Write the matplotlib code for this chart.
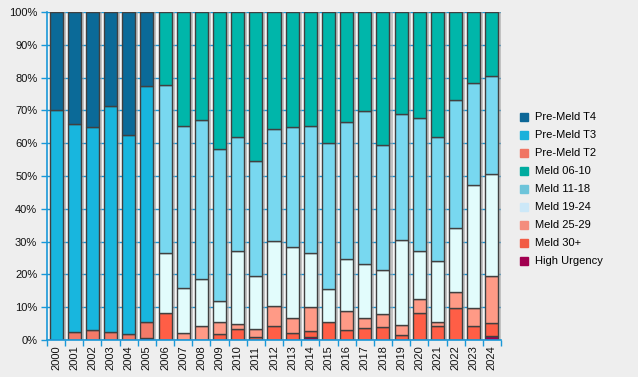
import matplotlib
matplotlib.use("Agg")
import matplotlib.pyplot as plt
import matplotlib.patheffects as pe
from matplotlib.lines import Line2D
import numpy as np

plt.rcParams['font.family'] = ['Liberation Sans', 'DejaVu Sans']

years = [str(y) for y in range(2000, 2025)]

# stack order bottom -> top
high_urgency = [0, 0, 0, 0, 0, 0.6, 0, 0, 0, 0, 0, 0, 0, 0, 0.8, 0, 0, 0, 0, 0, 0, 0, 0, 0, 1.2]
meld_30 = [0, 0, 0, 0, 0, 0, 8.1, 0, 0, 1.7, 3.3, 0.8, 4.2, 2.0, 1.8, 5.4, 2.9, 3.6, 3.9, 1.4, 8.1, 4.2, 9.7, 4.2, 3.9]
meld_25_29 = [0, 0, 0, 0, 0, 0, 0, 2.1, 4.2, 3.7, 1.5, 2.5, 6.1, 4.6, 7.4, 0, 5.8, 3.0, 3.9, 3.1, 4.3, 1.2, 4.8, 5.5, 14.3]
meld_19_24 = [0, 0, 0, 0, 0, 0, 18.3, 13.7, 14.3, 6.4, 22.2, 16.1, 19.8, 21.7, 16.4, 10.1, 15.9, 16.5, 13.4, 25.9, 14.6, 18.6, 19.6, 37.5, 31.1]
meld_11_18 = [0, 0, 0, 0, 0, 0, 51.2, 49.3, 48.5, 46.3, 34.9, 35.1, 34.1, 36.5, 38.7, 44.5, 41.8, 46.6, 38.4, 38.4, 40.6, 37.8, 39.0, 31.1, 29.9]
meld_06_10 = [0, 0, 0, 0, 0, 0, 22.4, 34.9, 33.0, 41.9, 38.1, 45.5, 35.8, 35.2, 34.9, 40.0, 33.6, 30.3, 40.4, 31.2, 32.4, 38.2, 26.9, 21.7, 19.6]
pre_t2 = [0, 2.3, 2.9, 2.3, 1.7, 4.8] + [0] * 19
pre_t3 = [70.0, 63.6, 61.9, 69.1, 60.7, 71.9] + [0] * 19
pre_t4 = [30.0, 34.1, 35.2, 28.6, 37.6, 22.7] + [0] * 19

series_names = ["High Urgency", "Meld 30+", "Meld 25-29", "Meld 19-24", "Meld 11-18",
                "Meld 06-10", "Pre-Meld T2", "Pre-Meld T3", "Pre-Meld T4"]
series_values = [high_urgency, meld_30, meld_25_29, meld_19_24, meld_11_18,
                 meld_06_10, pre_t2, pre_t3, pre_t4]
bar_colors = ["#A0004E", "#FF5E46", "#FF9A86", "#E2FCFC", "#78D8F0",
              "#00B6AA", "#F37A68", "#18B6DE", "#0B6A98"]
legend_colors = ["#A10050", "#F25C45", "#F48C7C", "#CCE8F8", "#6DC4DA",
                 "#00AB9F", "#F07563", "#18B1DB", "#0C6797"]

blue = "#1A98D8"
bg = "#EEEEEE"

fig = plt.figure(figsize=(6.38, 3.77), dpi=100, facecolor=bg)
ax = fig.add_axes([47 / 638, 37 / 377, 454 / 638, 328 / 377])
ax.set_facecolor("#F6F6F6")

x = np.arange(len(years))
bottom = np.zeros(len(years))
shadow = [pe.SimplePatchShadow(offset=(2.2, 0), shadow_rgbFace="#A0A0A0", alpha=0.6), pe.Normal()]
for name, vals, col in zip(series_names, series_values, bar_colors):
    v = np.array(vals, dtype=float)
    bars = ax.bar(x, v, width=0.72, bottom=bottom, color=col, edgecolor="#404040",
                  linewidth=1.0, zorder=3)
    for b in bars:
        if b.get_height() > 0:
            b.set_path_effects(shadow)
        else:
            b.set_visible(False)
    bottom += v

ax.set_xlim(-0.5, len(years) - 0.5)
ax.set_ylim(0, 100)
ax.set_yticks(np.arange(0, 101, 10))
ax.set_yticklabels([f"{t}%" for t in range(0, 101, 10)], fontsize=8, color="#111111")
ax.yaxis.grid(True, color=blue, linewidth=1.0, zorder=0)
ax.set_axisbelow(True)

ax.set_xticks(np.arange(-0.5, len(years), 1.0))
ax.set_xticklabels([])
ax.set_xticks(x, minor=True)
ax.set_xticklabels(years, minor=True, rotation=90, fontsize=8, color="#111111")
ax.tick_params(axis="x", which="minor", length=0, pad=4)
ax.tick_params(axis="x", which="major", length=4, color=blue, width=1)
ax.tick_params(axis="y", length=4, color=blue, width=1, pad=3)

for s in ["top", "right"]:
    ax.spines[s].set_visible(False)
for s in ["left", "bottom"]:
    ax.spines[s].set_color(blue)
    ax.spines[s].set_linewidth(1.2)
    ax.spines[s].set_zorder(5)

handles = [Line2D([0], [0], marker="s", linestyle="none", markersize=5.5,
                  markerfacecolor=c, markeredgecolor=c)
           for c in legend_colors[::-1]]
fig.legend(handles, series_names[::-1], loc="upper left",
           bbox_to_anchor=(515 / 638, 1 - 108 / 377), frameon=False,
           fontsize=8, handlelength=0.8, handletextpad=0.6, labelspacing=0.72,
           borderaxespad=0)

fig.savefig("out.png", dpi=100, facecolor=bg)
